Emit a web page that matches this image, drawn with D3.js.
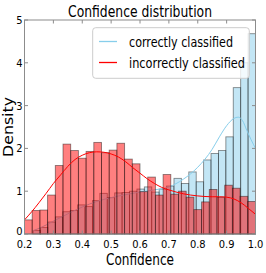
<!DOCTYPE html>
<html><head><meta charset="utf-8">
<script src="https://cdn.jsdelivr.net/npm/d3@7"></script>
<style>
html,body{margin:0;padding:0;background:#fff;}
text{font-family:"DejaVu Sans Condensed","DejaVu Sans",sans-serif;font-stretch:condensed;fill:#000;}
</style></head>
<body>
<svg id="chart" width="266" height="273"></svg>
<script>
// ---- data ----
const seriesNames = ["correctly classified", "incorrectly classified"];
const correctRange = [0.23, 1.0];
const correctHeights = [0.08,0.15,0.28,0.40,0.52,0.55,0.68,0.64,0.78,0.95,
                        0.85,0.96,0.97,1.00,1.05,1.10,0.98,1.05,1.12,1.30,
                        1.18,1.45,1.22,1.73,1.88,1.95,2.27,3.42,4.00,4.68];
const incorrectRange = [0.2, 1.0];
const incorrectHeights = [0.33,0.55,0.56,0.91,1.60,2.10,1.95,1.77,1.93,2.14,
                          1.90,1.96,2.12,1.75,1.64,0.99,1.33,0.91,1.39,0.93,
                          1.00,0.86,0.57,0.75,1.04,0.86,1.14,1.07,0.88,0.76];
const correctKdeX = [0.23,0.25,0.3,0.35,0.4,0.45,0.5,0.55,0.6,0.65,0.7,0.75,0.8,0.85,0.875,0.9,0.925,0.94,0.955,0.97,0.985,1.0];
const correctKdeY = [0.08,0.13,0.30,0.47,0.63,0.76,0.85,0.92,0.98,1.03,1.10,1.28,1.56,1.98,2.27,2.53,2.70,2.73,2.65,2.42,2.20,2.00];
const incorrectKdeX = [0.2,0.225,0.25,0.275,0.3,0.325,0.35,0.375,0.4,0.425,0.45,0.475,0.5,0.525,0.55,0.575,0.6,0.625,0.65,0.675,0.7,0.725,0.75,0.775,0.8,0.85,0.875,0.9,0.925,0.95,0.975,1.0];
const incorrectKdeY = [0.33,0.52,0.73,0.95,1.18,1.38,1.58,1.74,1.84,1.90,1.92,1.91,1.87,1.80,1.69,1.55,1.42,1.29,1.18,1.09,1.03,0.98,0.94,0.91,0.89,0.87,0.87,0.86,0.82,0.73,0.60,0.46];
const xTicks = [0.2,0.3,0.4,0.5,0.6,0.7,0.8,0.9,1.0];
const xTickLabels = ["0.2","0.3","0.4","0.5","0.6","0.7","0.8","0.9","1.0"];
const yTicks = [0,1,2,3,4,5];
const yTickLabels = ["0","1","2","3","4","5"];
const titleText = "Confidence distribution";
const xLabel = "Confidence";
const yLabel = "Density";

// ---- layout ----
const L = 24.5, R = 255.5, T = 20, B = 234;
const svg = d3.select("#chart");
const x = d3.scaleLinear().domain([0.2, 1.0]).range([L, R]);
const y = d3.scaleLinear().domain([0, 5]).range([B, T]);

function bins(range, heights) {
  const n = heights.length, w = (range[1] - range[0]) / n;
  return heights.map((h, i) => ({x0: range[0] + i * w, x1: range[0] + (i + 1) * w, h}));
}
function drawBars(data, color) {
  svg.append("g").selectAll("rect").data(data).join("rect")
    .attr("x", d => x(d.x0)).attr("width", d => x(d.x1) - x(d.x0))
    .attr("y", d => y(d.h)).attr("height", d => y(0) - y(d.h))
    .attr("fill", color).attr("fill-opacity", 0.5)
    .attr("stroke", "#000").attr("stroke-opacity", 0.45).attr("stroke-width", 0.9);
}
function drawLine(xs, ys, color) {
  const pts = xs.map((v, i) => [v, ys[i]]);
  svg.append("path").datum(pts)
    .attr("d", d3.line().x(d => x(d[0])).y(d => y(d[1])).curve(d3.curveMonotoneX))
    .attr("fill", "none").attr("stroke", color).attr("stroke-width", 1);
}

drawBars(bins(correctRange, correctHeights), "#87ceeb");
drawLine(correctKdeX, correctKdeY, "#87ceeb");
drawBars(bins(incorrectRange, incorrectHeights), "#ff0000");
drawLine(incorrectKdeX, incorrectKdeY, "#ff0000");

// frame
svg.append("rect").attr("x", L).attr("y", T).attr("width", R - L).attr("height", B - T)
  .attr("fill", "none").attr("stroke", "#8c8c8c").attr("stroke-width", 1);

// ticks (inside, all four sides)
const tk = 3.5;
const gt = svg.append("g").attr("stroke", "#8c8c8c").attr("stroke-width", 1);
xTicks.forEach(v => {
  gt.append("line").attr("x1", x(v)).attr("x2", x(v)).attr("y1", B).attr("y2", B - tk);
  gt.append("line").attr("x1", x(v)).attr("x2", x(v)).attr("y1", T).attr("y2", T + tk);
});
yTicks.forEach(v => {
  gt.append("line").attr("x1", L).attr("x2", L + tk).attr("y1", y(v)).attr("y2", y(v));
  gt.append("line").attr("x1", R).attr("x2", R - tk).attr("y1", y(v)).attr("y2", y(v));
});

// tick labels
svg.append("g").selectAll("text").data(xTicks).join("text")
  .attr("x", d => x(d)).attr("y", 247.8).attr("text-anchor", "middle")
  .attr("font-size", 11).text((d, i) => xTickLabels[i]);
svg.append("g").selectAll("text").data(yTicks).join("text")
  .attr("x", 22.5).attr("y", d => y(d) + (d === 0 ? 0.5 : 4)).attr("text-anchor", "end")
  .attr("font-size", 11).text((d, i) => yTickLabels[i]);

// title & axis labels
svg.append("text").attr("x", (L + R) / 2).attr("y", 16.5).attr("text-anchor", "middle")
  .attr("font-size", 15.5).attr("textLength", 144).attr("lengthAdjust", "spacingAndGlyphs").text(titleText);
svg.append("text").attr("x", (L + R) / 2).attr("y", 265).attr("text-anchor", "middle")
  .attr("font-size", 15.5).attr("textLength", 68).attr("lengthAdjust", "spacingAndGlyphs").text(xLabel);
svg.append("text").attr("transform", `translate(13.3,${(T + B) / 2}) rotate(-90)`).attr("text-anchor", "middle")
  .attr("font-size", 13.5).attr("textLength", 60).attr("lengthAdjust", "spacingAndGlyphs").text(yLabel);

// legend
const lg = svg.append("g");
lg.append("rect").attr("x", 92.7).attr("y", 27.7).attr("width", 156.6).attr("height", 50.6)
  .attr("rx", 3).attr("fill", "#fff").attr("fill-opacity", 0.8).attr("stroke", "#cccccc").attr("stroke-width", 1);
const legendColors = ["#87ceeb", "#ff0000"];
const legendLens = [104, 116];
seriesNames.forEach((s, i) => {
  const yy = 41.5 + i * 21;
  lg.append("line").attr("x1", 99).attr("x2", 117).attr("y1", yy).attr("y2", yy)
    .attr("stroke", legendColors[i]).attr("stroke-width", 1.3);
  lg.append("text").attr("x", 129).attr("y", yy + 5).attr("font-size", 14)
    .attr("textLength", legendLens[i]).attr("lengthAdjust", "spacingAndGlyphs").text(s);
});
</script>
</body></html>
